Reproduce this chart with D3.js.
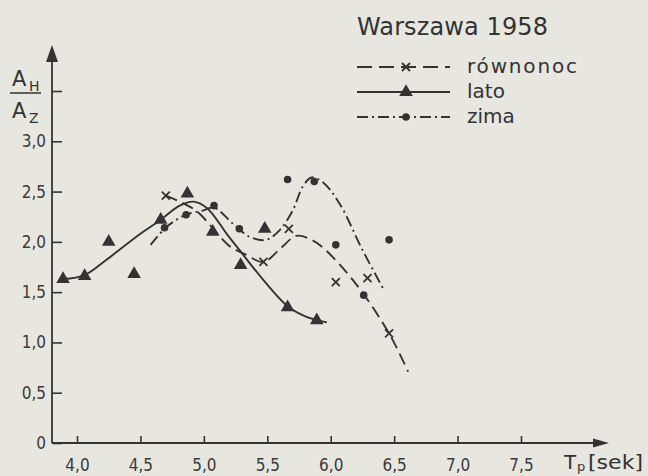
<!DOCTYPE html>
<html lang="pl">
<head>
    <meta charset="UTF-8">
    <title>Warszawa 1958</title>
    <script src="https://d3js.org/d3.v7.min.js"></script>
    <style>
        html, body {
            margin: 0;
            padding: 0;
            background: #e7e6df;
        }

        svg {
            display: block;
            font-family: "DejaVu Sans", sans-serif;
        }

        .axis text {
            font-family: "DejaVu Sans Condensed", "DejaVu Sans", sans-serif;
            font-size: 17px;
            fill: #3a3a3a;
        }

        .axis line {
            stroke: #333;
            stroke-width: 1.6;
        }

        .curve {
            fill: none;
            stroke: #333;
            stroke-width: 1.9;
        }

        .legend-text {
            font-size: 20px;
            fill: #333;
        }
    </style>
</head>
<body>
    <svg width="648" height="476"></svg>
    <script>
        // os X: okres fali T_p [sek], os Y: stosunek A_H / A_Z
        const xTicks = [4.0, 4.5, 5.0, 5.5, 6.0, 6.5, 7.0, 7.5];
        const yTicks = [0, 0.5, 1.0, 1.5, 2.0, 2.5, 3.0, 3.5];

        const seriesNames = ["równonoc", "lato", "zima"];

        // punkty pomiarowe
        const rownonocPts = [[4.70, 2.46], [5.47, 1.80], [5.67, 2.13], [6.04, 1.60], [6.29, 1.64], [6.46, 1.09]];
        const latoPts = [[3.89, 1.63], [4.06, 1.66], [4.25, 2.00], [4.45, 1.68], [4.66, 2.22], [4.87, 2.48],
                         [5.07, 2.10], [5.29, 1.77], [5.48, 2.13], [5.66, 1.35], [5.89, 1.22]];
        const zimaPts = [[4.69, 2.14], [4.86, 2.27], [5.08, 2.36], [5.28, 2.13], [5.66, 2.62], [5.87, 2.60],
                         [6.04, 1.97], [6.26, 1.47], [6.46, 2.02]];

        // krzywe wyrownane
        const rownonocCurve = [[4.70, 2.46], [4.81, 2.40], [4.95, 2.30], [5.08, 2.12], [5.20, 1.96], [5.32, 1.88],
                               [5.47, 1.80], [5.60, 1.93], [5.73, 2.06], [5.85, 2.02], [5.95, 1.93], [6.20, 1.58],
                               [6.46, 1.09], [6.61, 0.71]];
        const latoCurve = [[3.89, 1.63], [4.06, 1.67], [4.23, 1.82], [4.50, 2.08], [4.65, 2.21], [4.81, 2.36],
                           [4.92, 2.40], [5.03, 2.33], [5.18, 2.08], [5.28, 1.92], [5.45, 1.65], [5.66, 1.36],
                           [5.80, 1.26], [5.97, 1.20]];
        const zimaCurve = [[4.58, 1.97], [4.69, 2.13], [4.76, 2.20], [4.86, 2.27], [4.99, 2.31], [5.08, 2.34],
                           [5.23, 2.18], [5.36, 2.05], [5.49, 2.02], [5.60, 2.12], [5.70, 2.31], [5.78, 2.55],
                           [5.85, 2.64], [5.94, 2.59], [6.07, 2.38], [6.25, 1.92], [6.42, 1.52]];

        const ink = "#333";
        const svg = d3.select("svg");

        const originX = 52;
        const originY = 443;

        const x = d3.scaleLinear().domain([4.0, 7.5]).range([77, 521]);
        const y = d3.scaleLinear().domain([0, 3.5]).range([originY, 91]);

        const fmt = d => d === 0 ? "0" : d3.format(".1f")(d).replace(".", ",");

        // osie ze strzalkami
        svg.append("line")
            .attr("x1", originX).attr("y1", originY)
            .attr("x2", originX).attr("y2", 58)
            .attr("stroke", ink).attr("stroke-width", 1.8);
        svg.append("path")
            .attr("d", `M${originX},45L${originX + 6},62L${originX - 6},62Z`)
            .attr("fill", ink);

        svg.append("line")
            .attr("x1", originX).attr("y1", originY)
            .attr("x2", 596).attr("y2", originY)
            .attr("stroke", ink).attr("stroke-width", 1.8);
        svg.append("path")
            .attr("d", `M609,${originY}L593,${originY - 4.5}L593,${originY + 4.5}Z`)
            .attr("fill", ink);

        svg.append("g")
            .attr("class", "axis")
            .attr("transform", `translate(0,${originY})`)
            .call(d3.axisBottom(x)
                .tickValues(xTicks)
                .tickSizeInner(-7)
                .tickSizeOuter(0)
                .tickPadding(16)
                .tickFormat(fmt))
            .call(g => g.select(".domain").remove());

        svg.append("g")
            .attr("class", "axis")
            .attr("transform", `translate(${originX},0)`)
            .call(d3.axisLeft(y)
                .tickValues(yTicks)
                .tickSizeInner(-10)
                .tickSizeOuter(0)
                .tickPadding(6)
                .tickFormat(d => d === 3.5 ? "" : fmt(d)))
            .call(g => g.select(".domain").remove());

        // opis osi Y: A_H / A_Z
        svg.append("text").attr("x", 12).attr("y", 86).text("A")
            .style("font-size", "21px").attr("fill", ink);
        svg.append("text").attr("x", 29).attr("y", 91).text("H")
            .style("font-size", "14px").attr("fill", ink);
        svg.append("line")
            .attr("x1", 10).attr("y1", 93).attr("x2", 41).attr("y2", 93)
            .attr("stroke", ink).attr("stroke-width", 1.5);
        svg.append("text").attr("x", 12).attr("y", 118).text("A")
            .style("font-size", "21px").attr("fill", ink);
        svg.append("text").attr("x", 29).attr("y", 123).text("Z")
            .style("font-size", "14px").attr("fill", ink);

        // opis osi X: T_p [sek]
        svg.append("text").attr("x", 564).attr("y", 469).text("T")
            .style("font-size", "20px").attr("fill", ink);
        svg.append("text").attr("x", 577).attr("y", 471).text("p")
            .style("font-size", "13px").attr("fill", ink);
        svg.append("text").attr("x", 588).attr("y", 469).text("[sek]")
            .attr("textLength", 55).attr("lengthAdjust", "spacingAndGlyphs")
            .style("font-size", "20px").attr("fill", ink);

        // krzywe
        const line = d3.line()
            .x(d => x(d[0]))
            .y(d => y(d[1]))
            .curve(d3.curveCatmullRom.alpha(0.5));

        const dashes = { "równonoc": "12,6", "lato": null, "zima": "11,4,2,4" };

        svg.append("path").datum(rownonocCurve).attr("class", "curve")
            .attr("d", line).attr("stroke-dasharray", dashes["równonoc"]);
        svg.append("path").datum(latoCurve).attr("class", "curve")
            .attr("d", line);
        svg.append("path").datum(zimaCurve).attr("class", "curve")
            .attr("d", line).attr("stroke-dasharray", dashes["zima"]);

        // znaczniki
        const triangle = d3.symbol(d3.symbolTriangle, 80);
        const cross = "M-4,-4L4,4M4,-4L-4,4";

        function drawMarker(g, name) {
            if (name === "lato") {
                g.append("path").attr("d", triangle).attr("fill", ink);
            } else if (name === "zima") {
                g.append("circle").attr("r", 3.8).attr("fill", ink);
            } else {
                g.append("path").attr("d", cross).attr("stroke", ink)
                    .attr("stroke-width", 1.8).attr("fill", "none");
            }
        }

        [[rownonocPts, "równonoc"], [latoPts, "lato"], [zimaPts, "zima"]].forEach(([pts, name]) => {
            svg.append("g").selectAll("g")
                .data(pts)
                .join("g")
                .attr("transform", d => `translate(${x(d[0])},${y(d[1])})`)
                .each(function () { drawMarker(d3.select(this), name); });
        });

        // legenda
        svg.append("text")
            .attr("x", 357).attr("y", 35)
            .attr("textLength", 191).attr("lengthAdjust", "spacing")
            .text("Warszawa 1958")
            .style("font-size", "24px")
            .attr("fill", ink);

        const legendY = [67, 92, 117];
        seriesNames.forEach((name, i) => {
            const ly = legendY[i];
            svg.append("line")
                .attr("x1", 357).attr("y1", ly).attr("x2", 450).attr("y2", ly)
                .attr("class", "curve")
                .attr("stroke-dasharray", name === "równonoc" ? "15,7" : dashes[name]);
            const g = svg.append("g").attr("transform", `translate(406,${ly})`);
            drawMarker(g, name);
            const t = svg.append("text")
                .attr("class", "legend-text")
                .attr("x", 467).attr("y", ly + 6)
                .text(name);
            if (name === "równonoc") t.attr("textLength", 110).attr("lengthAdjust", "spacing");
        });
    </script>
</body>
</html>
